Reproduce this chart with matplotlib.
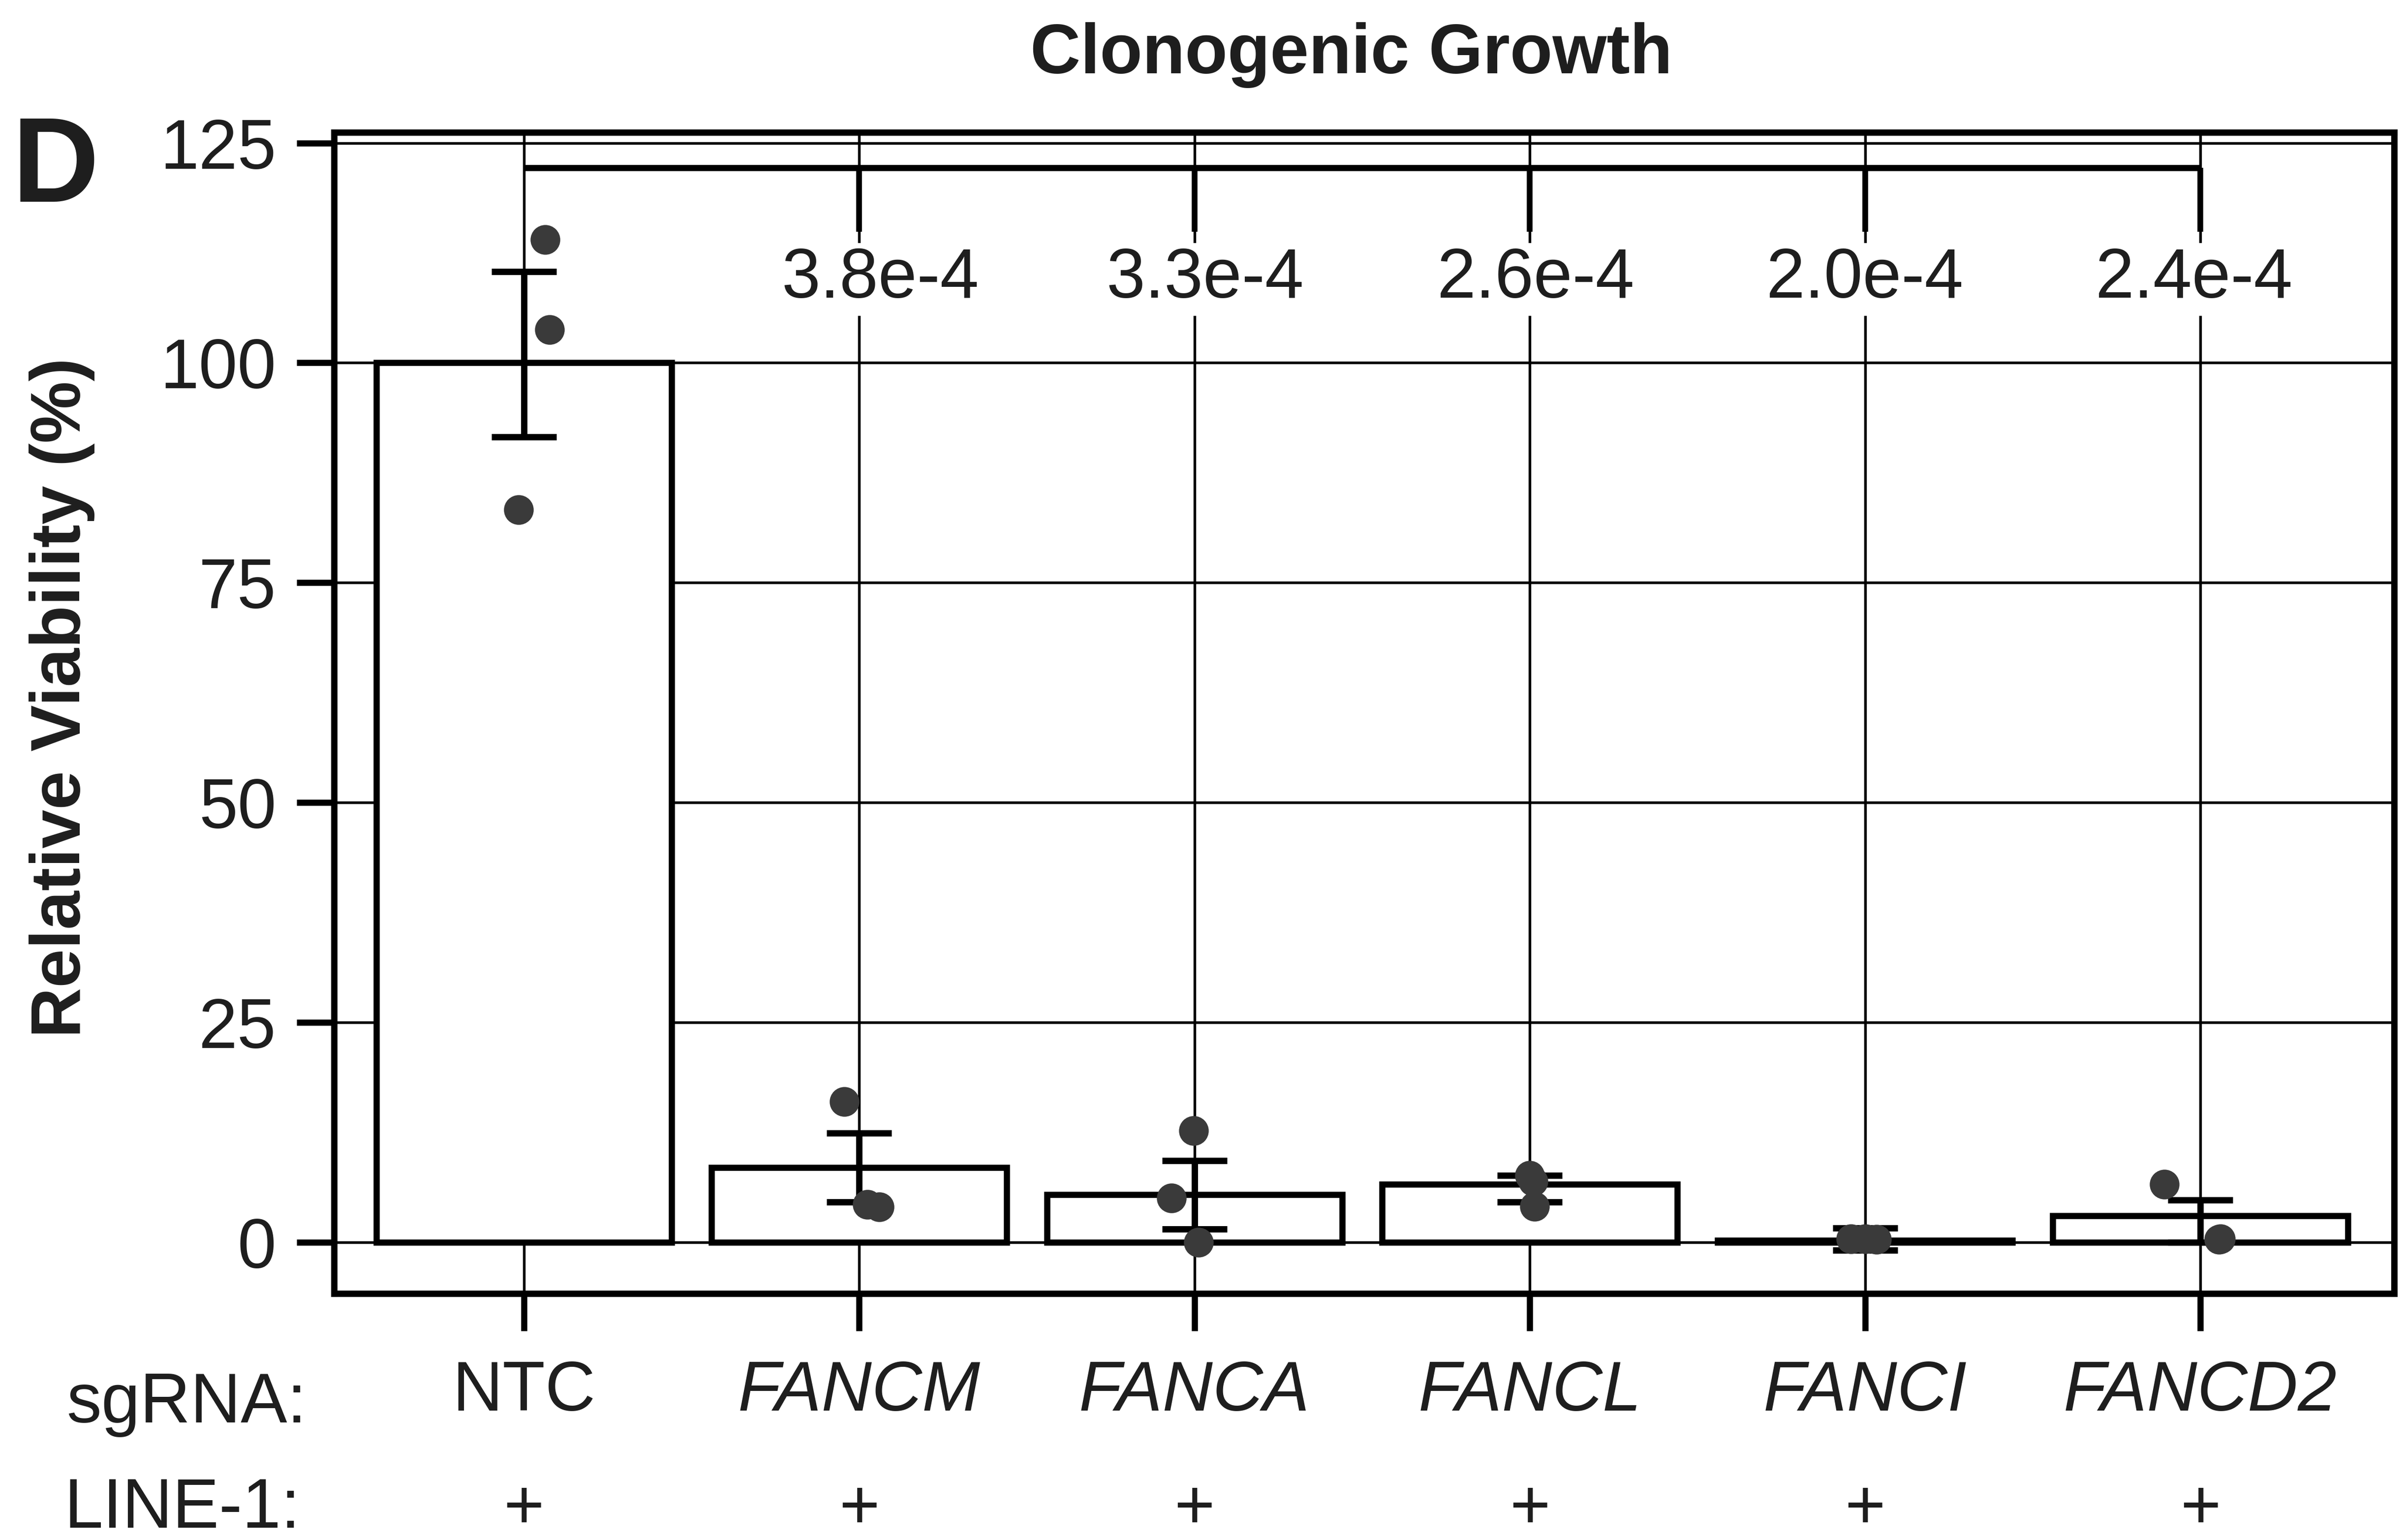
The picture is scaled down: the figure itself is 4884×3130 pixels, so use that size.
import matplotlib
matplotlib.use("Agg")
import matplotlib.pyplot as plt
from matplotlib.transforms import blended_transform_factory

# ---- data -------------------------------------------------------------
categories = ["NTC", "FANCM", "FANCA", "FANCL", "FANCI", "FANCD2"]
italic_label = [False, True, True, True, True, True]
line1_status = ["+", "+", "+", "+", "+", "+"]

bar_means = [100.0, 8.5, 5.4, 6.6, 0.2, 3.0]
err_low = [91.6, 4.6, 1.5, 4.6, -0.9, 0.0]
err_high = [110.4, 12.4, 9.3, 7.6, 1.6, 4.8]

replicates = [
    [114.0, 103.8, 83.3],
    [16.0, 4.3, 4.0],
    [12.7, 5.0, 0.0],
    [7.6, 6.9, 4.1],
    [0.4, 0.4, 0.3],
    [6.6, 0.4, 0.3],
]
replicate_dx = [
    [0.063, 0.076, -0.015],
    [-0.045, 0.025, 0.060],
    [-0.003, -0.069, 0.012],
    [0.000, 0.010, 0.015],
    [-0.042, 0.000, 0.035],
    [-0.108, 0.060, 0.055],
]

p_values = ["3.8e-4", "3.3e-4", "2.6e-4", "2.0e-4", "2.4e-4"]
p_label_dx = [0.063, 0.032, 0.019, 0.0, -0.019]
bracket_y = 122.2
bracket_drop_y = 114.9
p_label_y = 107.4

y_ticks = [0, 25, 50, 75, 100, 125]
y_limits = (-5.83, 126.21)
x_limits = (0.434, 6.578)

# ---- figure geometry (pixels) ----------------------------------------
W, H, DPI = 4884, 3130, 300
FONT = "Liberation Sans"
TXT = "#1e1e1e"
DOT = "#3a3a3a"


def fx(px):
    return px / W


def fy(py):
    return 1.0 - py / H


fig = plt.figure(figsize=(W / DPI, H / DPI), dpi=DPI)
fig.patch.set_facecolor("white")

ax_left, ax_right, ax_top, ax_bottom = 679, 4866, 269, 2629
ax = fig.add_axes([fx(ax_left), fy(ax_bottom),
                   (ax_right - ax_left) / W, (ax_bottom - ax_top) / H])

x = list(range(1, len(categories) + 1))

# grid behind everything
ax.set_axisbelow(True)
ax.grid(True, color="black", linewidth=1.3)

# bars
ax.bar(x, bar_means, width=0.88, facecolor="white", edgecolor="black",
       linewidth=3.0, zorder=3)

# error bars
yerr = [[m - lo for m, lo in zip(bar_means, err_low)],
        [hi - m for m, hi in zip(bar_means, err_high)]]
ax.errorbar(x, bar_means, yerr=yerr, fmt="none", ecolor="black",
            elinewidth=3.1, capsize=15.8, capthick=3.1, zorder=4)

# replicate points
for xi, vals, dxs in zip(x, replicates, replicate_dx):
    ax.plot([xi + d for d in dxs], vals, linestyle="none", marker="o",
            markersize=13.5, markerfacecolor=DOT, markeredgecolor=DOT,
            zorder=5)

# significance bracket against NTC
ax.plot([x[0], x[-1]], [bracket_y, bracket_y], color="black", lw=3.0,
        solid_capstyle="butt", zorder=4)
for xi, p, dx in zip(x[1:], p_values, p_label_dx):
    ax.plot([xi, xi], [bracket_y, bracket_drop_y], color="black", lw=2.8,
            solid_capstyle="butt", zorder=4)
    ax.text(xi + dx, p_label_y, p, ha="center", va="baseline",
            fontsize=34, family=FONT, color=TXT, zorder=3.5,
            bbox=dict(boxstyle="square,pad=0.05", facecolor="white",
                      edgecolor="none"))

# axes styling
ax.set_xlim(*x_limits)
ax.set_ylim(*y_limits)
ax.set_yticks(y_ticks)
ax.set_yticklabels([str(t) for t in y_ticks])
ax.set_xticks(x)
ax.set_xticklabels([])
for s in ax.spines.values():
    s.set_linewidth(3.1)
    s.set_color("black")
ax.tick_params(axis="both", direction="out", length=18.2, width=3.0,
               color="black")
ax.tick_params(axis="y", pad=10, labelsize=34, labelcolor=TXT)
for lbl in ax.get_yticklabels():
    lbl.set_family(FONT)

# category rows beneath the axis
row_tf = blended_transform_factory(ax.transData, fig.transFigure)
for xi, name, it in zip(x, categories, italic_label):
    ax.text(xi, fy(2867), name, transform=row_tf, ha="center",
            va="baseline", fontsize=34, family=FONT, color=TXT,
            style="italic" if it else "normal", clip_on=False)
for xi, s in zip(x, line1_status):
    ax.text(xi, fy(3070), s, transform=row_tf, ha="center", va="center",
            fontsize=34, family=FONT, color=TXT, clip_on=False)

fig.text(fx(135), fy(2891), "sgRNA:", ha="left", va="baseline",
         fontsize=34, family=FONT, color=TXT)
fig.text(fx(130), fy(3105), "LINE-1:", ha="left", va="baseline",
         fontsize=34, family=FONT, color=TXT)

# title, axis label and panel letter
fig.text(fx(2747), fy(149), "Clonogenic Growth", ha="center",
         va="baseline", fontsize=34, fontweight="bold", family=FONT,
         color=TXT)
fig.text(fx(163), fy(1418), "Relative Viability (%)", rotation=90,
         rotation_mode="anchor", ha="center", va="baseline", fontsize=34,
         fontweight="bold", family=FONT, color=TXT)
fig.text(fx(25), fy(410), "D", ha="left", va="baseline", fontsize=58.7,
         fontweight="bold", family=FONT, color=TXT)

fig.savefig("out.png", dpi=DPI, facecolor="white")
